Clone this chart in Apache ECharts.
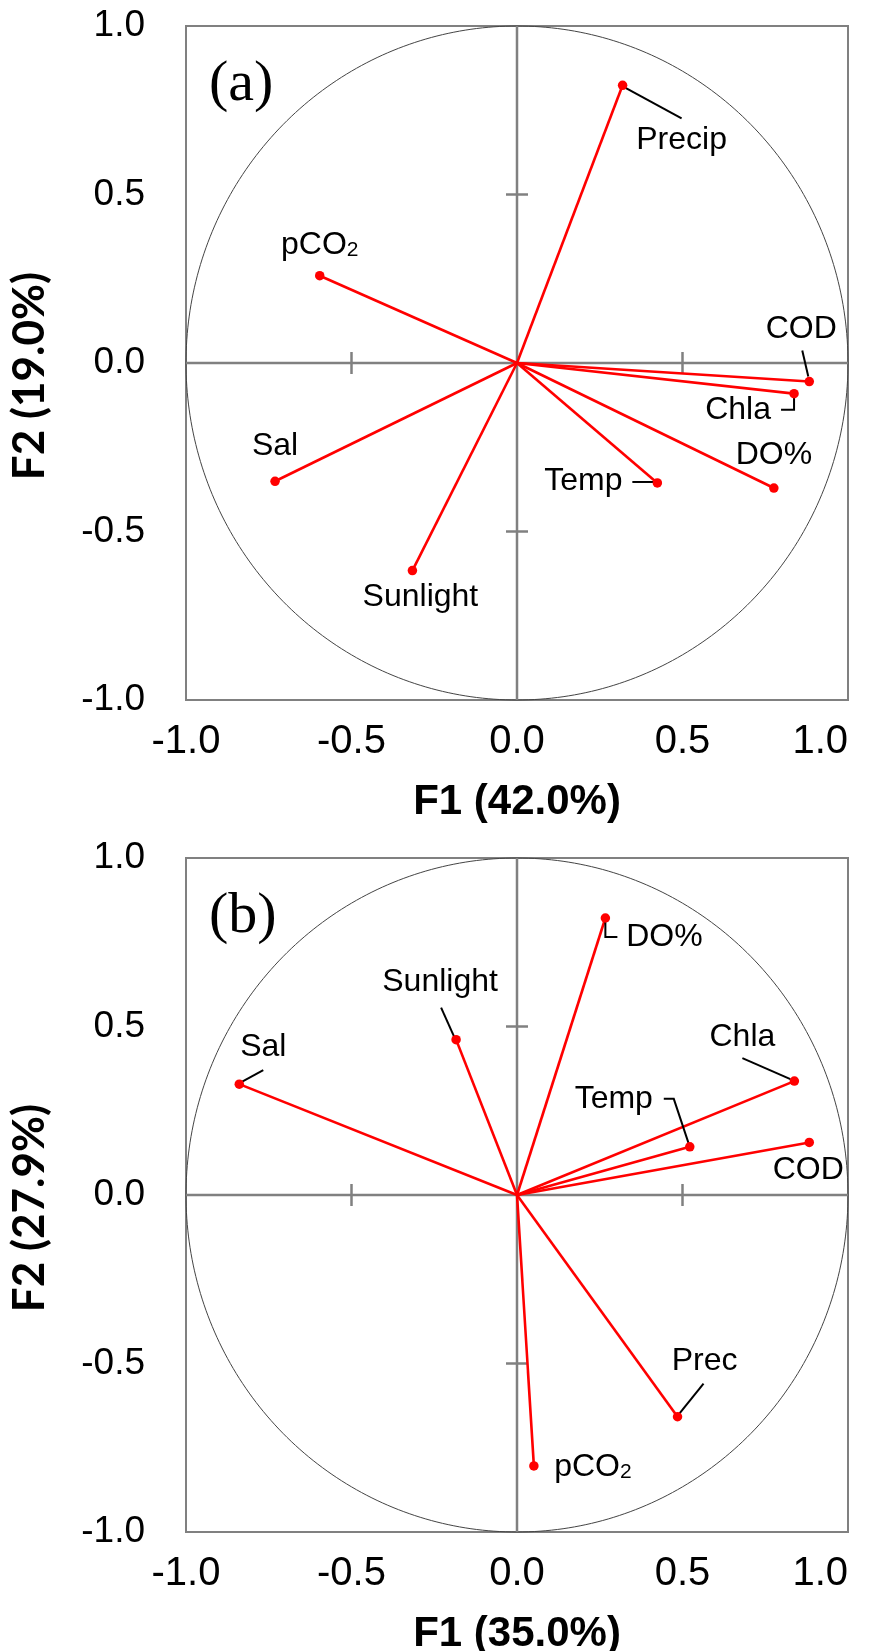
<!DOCTYPE html>
<html><head><meta charset="utf-8">
<script src="https://cdn.jsdelivr.net/npm/echarts@6/dist/echarts.min.js"></script>
<style>html,body{margin:0;padding:0;background:#fff}#c{width:872px;height:1651px}</style>
</head><body><div id="c"></div>
<script>
// ---- data ----
const variablesA = ['Precip', 'pCO2', 'COD', 'Chla', 'DO%', 'Temp', 'Sal', 'Sunlight'];
const f1A = [0.319, -0.596, 0.883, 0.837, 0.776, 0.424, -0.731, -0.316];
const f2A = [0.824, 0.259, -0.055, -0.091, -0.371, -0.356, -0.351, -0.616];
const variablesB = ['DO%', 'Sunlight', 'Sal', 'Chla', 'Temp', 'COD', 'Prec', 'pCO2'];
const f1B = [0.267, -0.184, -0.839, 0.838, 0.522, 0.883, 0.485, 0.051];
const f2B = [0.822, 0.461, 0.329, 0.338, 0.143, 0.156, -0.658, -0.804];
const axisTicks = [-1.0, -0.5, 0.0, 0.5, 1.0];
const panelTags = ['(a)', '(b)'];
const xTitles = ['F1 (42.0%)', 'F1 (35.0%)'];
const yTitles = ['F2 (19.0%)', 'F2 (27.9%)'];

// ---- label placement styles (pixel offsets from the point) ----
const labelStyleA = {
  'Precip':   {off: [59, 55],  leader: [[2, 2], [59, 33]]},
  'pCO2':     {off: [0, -31]},
  'COD':      {off: [-8, -52], leader: [[-1, -5], [-7, -31]]},
  'Chla':     {off: [-56, 17], leader: [[0, 3], [0, 16], [-13, 16]]},
  'DO%':      {off: [0, -33]},
  'Temp':     {off: [-74, -2], leader: [[-4, -1], [-25, -1]]},
  'Sal':      {off: [0, -35]},
  'Sunlight': {off: [8, 27]}
};
const labelStyleB = {
  'DO%':      {off: [59, 19],   leader: [[0, 3], [0, 19], [12, 19]]},
  'Sunlight': {off: [-16, -57], leader: [[-2, -3], [-15, -32]]},
  'Sal':      {off: [24, -37],  leader: [[2, -2], [24, -14]]},
  'Chla':     {off: [-52, -44], leader: [[-4, -2], [-52, -23]]},
  'Temp':     {off: [-76, -48], leader: [[-1, -3], [-16, -48], [-26, -48]]},
  'COD':      {off: [-1, 28]},
  'Prec':     {off: [27, -56],  leader: [[1, -2], [26, -33]]},
  'pCO2':     {off: [59, 1]}
};

const RED = '#ff0000';
const GRAY = '#808080';
const grids = [
  {left: 186, top: 26, width: 662, height: 674, show: true, borderColor: GRAY, borderWidth: 2, outerBoundsMode: 'none', containLabel: false},
  {left: 186, top: 858, width: 662, height: 674, show: true, borderColor: GRAY, borderWidth: 2, outerBoundsMode: 'none', containLabel: false}
];

function fmtTick(v) {
  const t = axisTicks.find(a => Math.abs(a - v) < 1e-9);
  return t === undefined ? '' : t.toFixed(1);
}

const xAxes = [0, 1].map(i => ({
  gridIndex: i, type: 'value', min: -1, max: 1, interval: 0.5,
  axisLine: {show: false}, axisTick: {show: false}, splitLine: {show: false},
  axisLabel: {formatter: fmtTick, color: '#000', fontSize: 40, fontFamily: '"Liberation Sans", Arial, sans-serif', margin: 22, alignMaxLabel: 'right'},
  name: xTitles[i], nameLocation: 'middle', nameGap: 81,
  nameTextStyle: {color: '#000', fontSize: 42, fontWeight: 'bold', fontFamily: '"Liberation Sans", Arial, sans-serif'}
}));
const yAxes = [0, 1].map(i => ({
  gridIndex: i, type: 'value', min: -1, max: 1, interval: 0.5,
  axisLine: {show: false}, axisTick: {show: false}, splitLine: {show: false},
  axisLabel: {formatter: fmtTick, color: '#000', fontSize: 37, fontFamily: '"Liberation Sans", Arial, sans-serif', margin: 41},
  name: yTitles[i], nameLocation: 'middle', nameGap: 134, nameRotate: 90,
  nameTextStyle: {color: '#000', fontSize: 44, fontWeight: 'bold', fontFamily: 'Lato, "Liberation Sans", sans-serif', padding: [0, 26, 0, 0]}
}));

function frameSeries(i) {
  return [
    { // correlation circle
      type: 'custom', xAxisIndex: i, yAxisIndex: i, z: 1, silent: true,
      data: [[0, 0, 1]],
      renderItem: function (params, api) {
        const r = api.value(2), pts = [];
        for (let k = 0; k <= 360; k++) {
          const t = k * Math.PI / 180;
          pts.push(api.coord([api.value(0) + r * Math.cos(t), api.value(1) + r * Math.sin(t)]));
        }
        return {type: 'polyline', shape: {points: pts}, style: {stroke: '#444', lineWidth: 1, fill: null}};
      }
    },
    { // central axes with ticks
      type: 'custom', xAxisIndex: i, yAxisIndex: i, z: 2, silent: true,
      data: [[0]],
      renderItem: function (params, api) {
        const c = [];
        const st = {stroke: GRAY, lineWidth: 2.5};
        const a = api.coord([-1, 0]), b = api.coord([1, 0]);
        const u = api.coord([0, 1]), d = api.coord([0, -1]);
        c.push({type: 'line', shape: {x1: a[0], y1: a[1], x2: b[0], y2: b[1]}, style: st});
        c.push({type: 'line', shape: {x1: u[0], y1: u[1], x2: d[0], y2: d[1]}, style: st});
        [-0.5, 0.5].forEach(v => {
          const px = api.coord([v, 0]);
          c.push({type: 'line', shape: {x1: px[0], y1: px[1] - 11, x2: px[0], y2: px[1] + 11}, style: st});
          const py = api.coord([0, v]);
          c.push({type: 'line', shape: {x1: py[0] - 11, y1: py[1], x2: py[0] + 11, y2: py[1]}, style: st});
        });
        return {type: 'group', children: c};
      }
    }
  ];
}

const LABEL_FONT = '"Liberation Sans", Arial, sans-serif';
function panelSeries(i, names, xs, ys, styles) {
  const pts = names.map((n, k) => [xs[k], ys[k], k]);
  return [
    { // vectors
      type: 'custom', xAxisIndex: i, yAxisIndex: i, z: 3, silent: true,
      data: pts,
      renderItem: function (params, api) {
        const o = api.coord([0, 0]), p = api.coord([api.value(0), api.value(1)]);
        return {type: 'line', shape: {x1: o[0], y1: o[1], x2: p[0], y2: p[1]}, style: {stroke: RED, lineWidth: 2.6}};
      }
    },
    { // leader lines
      type: 'custom', xAxisIndex: i, yAxisIndex: i, z: 4, silent: true,
      data: pts,
      renderItem: function (params, api) {
        const s = styles[names[api.value(2)]];
        if (!s || !s.leader) return null;
        const p = api.coord([api.value(0), api.value(1)]);
        return {type: 'polyline', shape: {points: s.leader.map(o => [p[0] + o[0], p[1] + o[1]])},
                style: {stroke: '#000', lineWidth: 2, fill: null}};
      }
    },
    { // points + labels
      type: 'scatter', xAxisIndex: i, yAxisIndex: i, z: 5, silent: true,
      symbol: 'circle', symbolSize: 9.5, itemStyle: {color: RED, opacity: 1},
      data: names.map((n, k) => ({
        name: n, value: [xs[k], ys[k]],
        label: {offset: styles[n].off}
      })),
      label: {
        show: true, position: 'inside', align: 'center', verticalAlign: 'middle',
        color: '#000', fontSize: 32, fontFamily: LABEL_FONT,
        textBorderWidth: 0, textBorderColor: 'transparent', textShadowBlur: 0,
        formatter: function (p) {
          return p.name === 'pCO2' ? '{m|pCO}{s|2}' : p.name;
        },
        rich: {
          m: {fontSize: 32, lineHeight: 32, color: '#000', fontFamily: LABEL_FONT, textBorderWidth: 0},
          s: {fontSize: 21, lineHeight: 8, verticalAlign: 'bottom', color: '#000', fontFamily: LABEL_FONT, textBorderWidth: 0}
        }
      }
    }
  ];
}

const chart = echarts.init(document.getElementById('c'), null, {renderer: 'canvas'});
chart.setOption({
  animation: false,
  backgroundColor: '#fff',
  grid: grids,
  xAxis: xAxes,
  yAxis: yAxes,
  graphic: panelTags.map((t, i) => ({
    type: 'text', left: 209, top: 56 + i * 832,
    style: {text: t, fontSize: 58, fontFamily: '"Liberation Serif", "Times New Roman", serif', fill: '#000'}
  })),
  series: [].concat(
    frameSeries(0), frameSeries(1),
    panelSeries(0, variablesA, f1A, f2A, labelStyleA),
    panelSeries(1, variablesB, f1B, f2B, labelStyleB)
  )
});
</script>
</body></html>
